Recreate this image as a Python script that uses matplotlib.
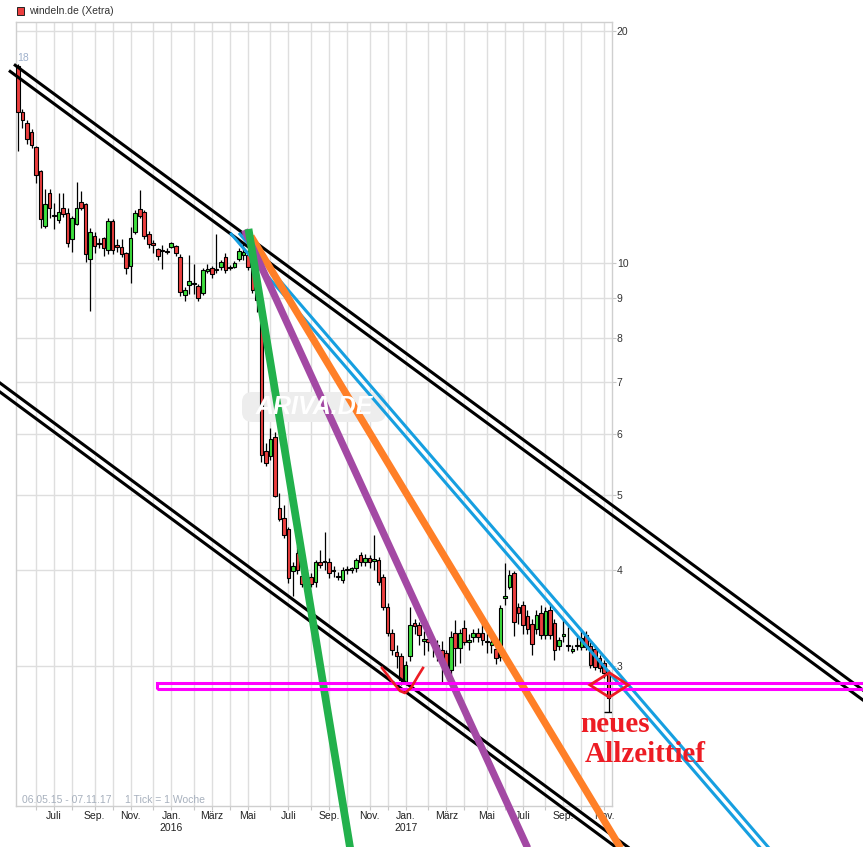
import numpy as np
import pandas as pd
import matplotlib
matplotlib.use("Agg")
import matplotlib.pyplot as plt
from matplotlib.patches import Rectangle, Polygon, FancyBboxPatch
from matplotlib.ticker import FixedLocator, NullLocator

plt.rcParams["font.family"] = ["Liberation Sans", "DejaVu Sans"]

# ---------------------------------------------------------------- data
TITLE = "windeln.de (Xetra)"
FIRST_WEEK = "2015-05-04"          # weekly candles, one per week
PERIOD_TEXT = "06.05.15 - 07.11.17"
TICK_TEXT = "1 Tick = 1 Woche"

opens = [18.00, 15.70, 15.19, 14.79, 14.14, 13.16, 11.17, 12.33, 11.50, 11.37,
         11.78, 11.61, 10.74, 11.23, 11.99, 11.93, 10.12, 10.84, 10.62, 10.77,
         10.40, 11.33, 10.55, 10.49, 10.30, 9.91, 10.97, 11.75, 11.64, 10.90,
         10.62, 10.43, 10.40, 10.35, 10.49, 10.52, 10.18, 9.08, 9.36, 9.38,
         9.33, 9.14, 9.77, 9.84, 9.78, 9.89, 10.19, 9.86, 9.89, 10.11,
         10.25, 10.24, 9.89, 9.22, 8.95, 5.71, 5.62, 5.95, 4.81, 4.67,
         4.52, 3.99, 4.21, 3.93, 3.85, 3.92, 3.86, 4.10, 4.09, 4.10,
         3.99, 3.93, 3.88, 4.00, 4.00, 4.02, 4.18, 4.10, 4.15, 4.11,
         4.12, 3.92, 3.58, 3.31, 3.13, 3.09, 2.86, 3.09, 3.41, 3.39,
         3.23, 3.25, 3.22, 3.20, 3.15, 3.12, 2.97, 3.31, 3.17, 3.36,
         3.22, 3.27, 3.31, 3.31, 3.23, 3.20, 3.16, 3.08, 3.68, 3.80,
         3.96, 3.58, 3.60, 3.48, 3.40, 3.35, 3.52, 3.29, 3.55, 3.41,
         3.19, 3.28, 3.20, 3.14, 3.19, 3.18, 3.29, 3.19, 3.16, 3.07,
         3.03, 2.94]
highs = [18.10, 15.84, 15.33, 14.90, 14.20, 13.20, 12.47, 12.47, 11.97, 12.33,
         12.33, 11.78, 11.50, 12.74, 12.40, 11.95, 11.10, 10.97, 10.77, 10.80,
         11.44, 11.40, 10.75, 10.75, 10.35, 11.13, 11.70, 12.43, 11.70, 11.00,
         10.71, 10.45, 10.55, 10.45, 10.65, 10.55, 10.27, 9.30, 10.24, 9.97,
         9.40, 9.85, 9.97, 9.90, 10.90, 10.10, 10.30, 9.95, 10.05, 10.45,
         10.60, 10.40, 9.95, 9.30, 9.00, 5.85, 6.11, 6.04, 5.03, 4.85,
         4.55, 4.10, 4.30, 3.98, 3.95, 3.96, 4.12, 4.24, 4.48, 4.15,
         4.05, 3.98, 4.03, 4.05, 4.04, 4.15, 4.22, 4.20, 4.18, 4.44,
         4.16, 3.95, 3.62, 3.35, 3.20, 3.12, 3.05, 3.58, 3.45, 3.42,
         3.33, 3.30, 3.28, 3.24, 3.23, 3.15, 3.33, 3.44, 3.35, 3.44,
         3.30, 3.35, 3.36, 3.45, 3.35, 3.28, 3.20, 3.60, 4.08, 4.00,
         3.99, 3.62, 3.64, 3.55, 3.45, 3.55, 3.60, 3.58, 3.60, 3.45,
         3.27, 3.44, 3.37, 3.20, 3.27, 3.35, 3.33, 3.22, 3.20, 3.10,
         3.06, 2.97]
lows = [13.97, 14.96, 14.27, 14.10, 12.70, 11.10, 11.10, 11.43, 11.07, 11.27,
        11.47, 10.49, 10.33, 11.20, 11.70, 10.03, 8.66, 10.30, 10.46, 10.22,
        10.27, 10.27, 10.33, 10.18, 9.68, 9.42, 10.90, 11.45, 10.74, 10.46,
        10.30, 10.10, 9.82, 10.28, 10.45, 10.20, 9.06, 8.94, 9.12, 9.12,
        8.93, 9.10, 9.70, 9.55, 9.70, 9.80, 9.70, 9.80, 9.85, 10.05,
        10.10, 9.80, 9.15, 8.65, 5.52, 5.45, 5.55, 4.97, 4.63, 4.40,
        3.85, 3.70, 3.95, 3.80, 3.78, 3.80, 3.80, 4.02, 4.00, 3.90,
        3.92, 3.88, 3.85, 3.95, 3.96, 3.98, 4.05, 4.05, 4.02, 4.00,
        3.82, 3.55, 3.28, 3.10, 2.98, 2.84, 2.84, 3.05, 3.30, 3.20,
        3.10, 3.14, 3.08, 3.05, 2.86, 2.92, 2.92, 3.00, 3.03, 3.20,
        3.15, 3.22, 3.22, 3.20, 3.12, 3.12, 3.02, 3.05, 3.60, 3.78,
        3.28, 3.40, 3.30, 3.30, 3.10, 3.30, 3.25, 3.25, 3.25, 3.06,
        3.15, 3.22, 3.14, 3.12, 3.15, 3.15, 3.15, 2.98, 2.97, 2.95,
        2.90, 2.62]
closes = [15.70, 15.33, 14.48, 14.22, 13.01, 11.40, 11.93, 11.78, 11.55, 11.64,
          11.57, 10.62, 11.44, 11.78, 11.78, 10.27, 10.97, 10.52, 10.58, 10.46,
          11.33, 10.40, 10.50, 10.27, 9.85, 10.77, 11.61, 11.51, 10.84, 10.58,
          10.55, 10.21, 10.38, 10.33, 10.62, 10.30, 9.17, 9.22, 9.48, 9.42,
          9.01, 9.79, 9.82, 9.68, 9.81, 10.02, 9.79, 9.89, 10.00, 10.37,
          10.35, 9.89, 9.22, 8.95, 5.64, 5.51, 5.91, 4.98, 4.66, 4.44,
          3.90, 4.05, 4.00, 3.84, 3.88, 3.84, 4.10, 4.06, 4.11, 3.96,
          4.00, 3.92, 4.00, 4.01, 4.02, 4.12, 4.10, 4.15, 4.09, 4.13,
          3.86, 3.58, 3.31, 3.15, 3.09, 2.88, 3.01, 3.39, 3.38, 3.29,
          3.25, 3.22, 3.24, 3.13, 3.05, 2.98, 3.27, 3.17, 3.31, 3.22,
          3.24, 3.31, 3.27, 3.24, 3.22, 3.22, 3.07, 3.57, 3.70, 3.94,
          3.42, 3.52, 3.39, 3.35, 3.21, 3.50, 3.29, 3.54, 3.29, 3.15,
          3.24, 3.30, 3.19, 3.16, 3.20, 3.26, 3.18, 3.01, 2.99, 2.98,
          2.94, 2.73]

y_ticks = [3, 4, 5, 6, 7, 8, 9, 10, 20]
month_names = {1: "Jan.", 3: "März", 5: "Mai", 7: "Juli", 9: "Sep.", 11: "Nov."}

# drawn trend lines: (week index, price) end points
black_top = [((-0.887, 18.10), (191.2, 2.691)), ((-2.0, 17.77), (191.2, 2.612))]
black_bottom = [((-6.21, 7.145), (137.98, 1.702)), ((-6.21, 6.955), (137.98, 1.657))]
blue_pair = [((49.0, 10.94), (169.03, 1.678)), ((47.09, 10.94), (169.03, 1.629))]
green_line = ((51.13, 11.07), (74.11, 1.682))
purple_line = ((50.24, 11.04), (113.58, 1.717))
orange_line = ((51.69, 10.83), (134.65, 1.706))
support_band = (30.83, 2.805, 2.854)      # start week, lower / upper price
low_mark_x = [80.75, 82.96, 84.74, 85.85, 87.18, 88.73, 89.84]
low_mark_y = [2.984, 2.870, 2.786, 2.769, 2.811, 2.913, 2.984]
diamond_x = [126.88, 131.17, 135.38, 131.17]
diamond_y = [2.836, 2.942, 2.836, 2.734]

# ---------------------------------------------------------------- figure
W, H = 863, 847
fig = plt.figure(figsize=(W / 100, H / 100), dpi=100)
ax = fig.add_axes([16 / W, 1 - 806 / H, 596 / W, 784 / H])


def fx(px):
    return px / W


def fy(py):
    return 1 - py / H


o = np.array(opens)
h = np.array(highs)
l = np.array(lows)
c = np.array(closes)
x = np.arange(len(o))

ax.set_yscale("log")
ax.set_ylim(1.976, 20.54)
ax.set_xlim(-0.44, 131.77)

# month grid at the week containing the 1st of each month
start = pd.Timestamp(FIRST_WEEK)
months = pd.date_range("2015-05-01", "2017-11-01", freq="MS")
tick_pos, tick_lab = [], []
for m in months:
    monday = m - pd.Timedelta(days=m.weekday())
    pos = (monday - start).days / 7
    if pos < -0.44:
        continue
    tick_pos.append(pos)
    lab = month_names.get(m.month, "")
    if m.month == 1:
        lab = lab + "\n" + str(m.year)
    tick_lab.append(lab)

ax.xaxis.set_major_locator(FixedLocator(tick_pos))
ax.set_xticklabels(tick_lab, fontsize=7.5, color="#222222", linespacing=1.25)
ax.yaxis.tick_right()
ax.yaxis.set_major_locator(FixedLocator(y_ticks))
ax.yaxis.set_minor_locator(NullLocator())
ax.set_yticklabels([str(v) for v in y_ticks], fontsize=7.5, color="#333333")
ax.tick_params(axis="x", length=3, color="#c8c8c8", pad=0.5)
ax.tick_params(axis="y", length=3, color="#c8c8c8", pad=0.5)
ax.set_axisbelow(True)
ax.grid(True, color="#dedede", lw=1.0)
for s in ax.spines.values():
    s.set_color("#cfcfcf")
    s.set_linewidth(1.0)

# faint watermark
wm = FancyBboxPatch((fx(242), fy(422)), fx(386) - fx(242), 30 / H,
                    boxstyle="round,pad=0,rounding_size=0.012",
                    transform=fig.transFigure, fc="#ededed", ec="none", zorder=1)
ax.add_patch(wm)
fig.text(fx(314), fy(407), "ARIVA.DE", fontsize=18, fontweight="bold",
         fontstyle="italic", color="white", ha="center", va="center", zorder=1.1)

# candles
up = c > o
colors = np.where(up, "#3ee03e", "#ec3f3f")
lo_b = np.minimum(o, c)
hi_b = np.maximum(o, c)
ht = np.maximum(hi_b - lo_b, lo_b * 0.003)
ax.vlines(x, l, h, color="black", lw=0.9, zorder=2)
ax.bar(x, ht, bottom=lo_b, width=0.8, color=colors, edgecolor="black",
       linewidth=0.8, zorder=3)
ax.hlines(l[-1], x[-1] - 0.9, x[-1] + 0.9, color="black", lw=1.0, zorder=3)

ax.text(-0.2, h[0] * 1.004, "18", fontsize=7.5, color="#9fb1cc",
        ha="left", va="bottom")


# trend lines
def seg(p, **kw):
    (x0, y0), (x1, y1) = p
    ax.plot([x0, x1], [y0, y1], clip_on=False, solid_capstyle="butt", **kw)


for p in black_top + black_bottom:
    seg(p, color="black", lw=2.2, zorder=5)
for p in blue_pair:
    seg(p, color="#169fe0", lw=2.2, zorder=5)
seg(orange_line, color="#ff7f27", lw=5.2, zorder=6)
seg(purple_line, color="#a349a4", lw=5.2, zorder=6)
seg(green_line, color="#22b14c", lw=5.6, zorder=6)

sx, s_lo, s_hi = support_band
ax.add_patch(Rectangle((sx, s_lo), 170, s_hi - s_lo, fill=False,
                       ec="#ff00ff", lw=2.2, clip_on=False, zorder=7))
ax.plot(low_mark_x, low_mark_y, color="#ed1c24", lw=1.9, clip_on=False, zorder=8)
ax.add_patch(Polygon(np.column_stack([diamond_x, diamond_y]), closed=True,
                     fill=False, ec="#ed1c24", lw=2.0, clip_on=False, zorder=8))

# header and footer texts
fig.patches.append(Rectangle((fx(17), fy(15)), 7 / W, 8 / H, transform=fig.transFigure,
                             fc="#ec3f3f", ec="#222222", lw=0.7))
fig.text(fx(29), fy(11), TITLE, fontsize=7.5, color="#333333", va="center")
fig.text(fx(21.5), fy(800), PERIOD_TEXT, fontsize=7.5, color="#a7b0bd", va="center")
fig.text(fx(125), fy(800), TICK_TEXT, fontsize=7.5, color="#a7b0bd", va="center")

fig.text(fx(580), fy(732), "neues", fontsize=21, fontweight="bold",
         family="Liberation Serif", color="#ed1c24", va="baseline")
fig.text(fx(585), fy(762), "Allzeittief", fontsize=21, fontweight="bold",
         family="Liberation Serif", color="#ed1c24", va="baseline")

fig.savefig("out.png", dpi=100)
